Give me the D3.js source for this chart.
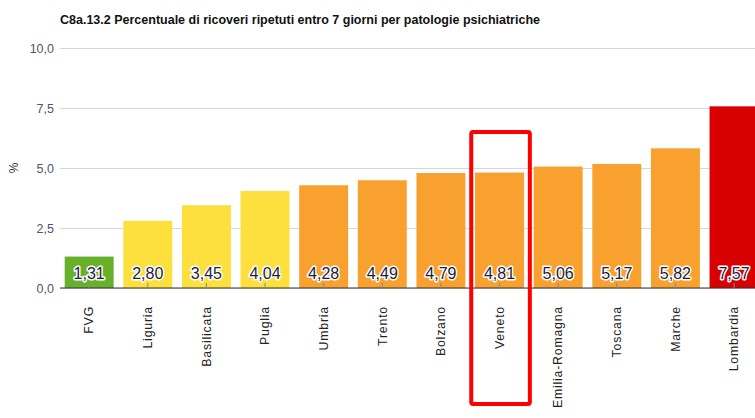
<!DOCTYPE html>
<html>
<head>
<meta charset="utf-8">
<script src="https://cdn.jsdelivr.net/npm/d3@7"></script>
<style>
  body { margin: 0; background: #fff; }
  svg { display: block; font-family: Arial, "Liberation Sans", sans-serif; }
</style>
</head>
<body>
<script>
// data
var regions = ["FVG", "Liguria", "Basilicata", "Puglia", "Umbria", "Trento",
               "Bolzano", "Veneto", "Emilia-Romagna", "Toscana", "Marche", "Lombardia"];
var values = [1.31, 2.80, 3.45, 4.04, 4.28, 4.49, 4.79, 4.81, 5.06, 5.17, 5.82, 7.57];
var bands = ["green", "yellow", "yellow", "yellow", "orange", "orange",
             "orange", "orange", "orange", "orange", "orange", "red"];
var yTicks = [0, 2.5, 5, 7.5, 10];
var highlight = "Veneto";
var title = "C8a.13.2 Percentuale di ricoveri ripetuti entro 7 giorni per patologie psichiatriche";

var colors = {green: "#66b02a", yellow: "#fde03e", orange: "#f8a12f", red: "#d80000"};

var width = 755,
    height = 418,
    padLeft = 60,
    padTop = 48,
    plotH = 240;

var svg = d3.select("body").append("svg")
    .attr("width", width)
    .attr("height", height);

var x = d3.scaleBand()
    .domain(regions)
    .range([padLeft, padLeft + 12 * 58.6])
    .paddingInner(0.165)
    .paddingOuter(0.08);

var y = d3.scaleLinear()
    .domain([0, 10])
    .range([padTop + plotH, padTop]);

var fmt = function (v) { return d3.format(".2f")(v).replace(".", ","); };
var fmtTick = function (v) { return d3.format(".1f")(v).replace(".", ","); };

// title
svg.append("text")
    .attr("x", padLeft)
    .attr("y", 24)
    .attr("font-size", 12.5)
    .attr("font-weight", "bold")
    .attr("fill", "#111")
    .text(title);

// grid + y labels
var yAxis = d3.axisLeft(y)
    .tickValues(yTicks)
    .tickSize(-(width - padLeft))
    .tickPadding(6)
    .tickFormat(fmtTick);

var gy = svg.append("g")
    .attr("transform", "translate(" + padLeft + ",0)")
    .call(yAxis);
gy.select(".domain").remove();
gy.selectAll(".tick line").attr("stroke", "#d4d8dc").attr("stroke-width", 1);
gy.selectAll(".tick text")
    .attr("font-size", 12.5)
    .attr("fill", "#4f5566")
    .attr("font-family", "Arial, 'Liberation Sans', sans-serif");

svg.append("text")
    .attr("transform", "translate(18," + y(5) + ") rotate(-90)")
    .attr("text-anchor", "middle")
    .attr("font-size", 12)
    .attr("fill", "#333")
    .text("%");

// bars
svg.append("g").selectAll("rect")
    .data(regions)
    .enter()
    .append("rect")
    .attr("x", function (d) { return x(d); })
    .attr("y", function (d, i) { return y(values[i]); })
    .attr("width", x.bandwidth())
    .attr("height", function (d, i) { return y(0) - y(values[i]); })
    .attr("fill", function (d, i) { return colors[bands[i]]; });

// x axis
var xAxis = d3.axisBottom(x).tickSize(0).tickPadding(8);
var gx = svg.append("g")
    .attr("transform", "translate(0," + y(0) + ")")
    .call(xAxis);
gx.select(".domain").attr("stroke", "#333").attr("d", "M" + padLeft + ",0H" + width);
gx.selectAll(".tick text")
    .attr("font-size", 12.3)
    .attr("fill", "#222")
    .attr("letter-spacing", "0.8px")
    .attr("font-family", "Arial, 'Liberation Sans', sans-serif")
    .attr("text-anchor", "end")
    .attr("transform", "rotate(-90)")
    .attr("x", -18)
    .attr("y", 0)
    .attr("dy", "0.35em");

// small ticks inside bars
svg.append("g").selectAll("line")
    .data(regions)
    .enter()
    .append("line")
    .attr("x1", function (d) { return x(d) + x.bandwidth() / 2; })
    .attr("x2", function (d) { return x(d) + x.bandwidth() / 2; })
    .attr("y1", y(0))
    .attr("y2", y(0) - 5)
    .attr("stroke", "#888");

// value labels
svg.append("g").selectAll("text")
    .data(regions)
    .enter()
    .append("text")
    .attr("x", function (d) { return x(d) + x.bandwidth() / 2; })
    .attr("y", y(0) - 9)
    .attr("text-anchor", "middle")
    .attr("font-size", 16)
    .attr("fill", "#1c2140")
    .attr("stroke", "#fff")
    .attr("stroke-width", 3)
    .attr("stroke-linejoin", "round")
    .attr("paint-order", "stroke")
    .text(function (d, i) { return fmt(values[i]); });

// highlight box
var hx = x(highlight) + x.bandwidth() / 2;
svg.append("rect")
    .attr("x", hx - x.step() / 2 + 1)
    .attr("y", y(6.5))
    .attr("width", x.step())
    .attr("height", 404 - y(6.5))
    .attr("rx", 2)
    .attr("fill", "none")
    .attr("stroke", "#f00")
    .attr("stroke-width", 4);
</script>
</body>
</html>
